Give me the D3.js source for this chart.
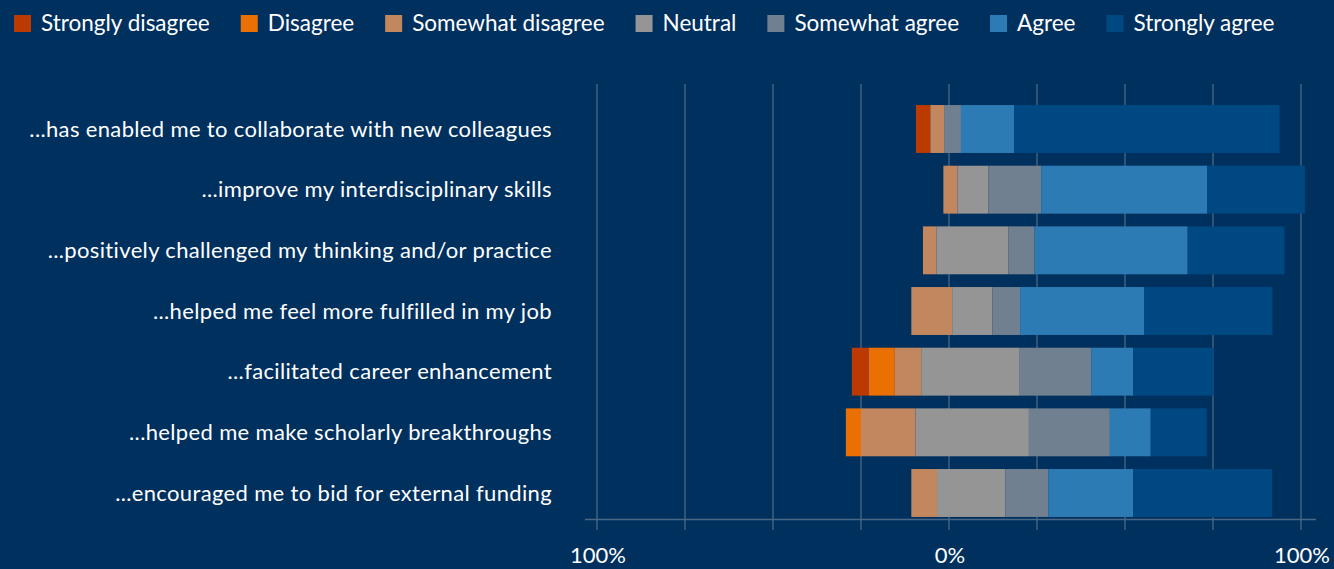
<!DOCTYPE html>
<html>
<head>
<meta charset="utf-8">
<script src="https://cdn.jsdelivr.net/npm/d3@7"></script>
<style>
    body { margin: 0; background: #00305e; }
    svg text { font-family: Lato, "Open Sans", sans-serif; fill: #ffffff; }
</style>
</head>
<body>
<div id="chart"></div>
<script>

// statements, top to bottom
let categories = [
    "...has enabled me to collaborate with new colleagues",
    "...improve my interdisciplinary skills",
    "...positively challenged my thinking and/or practice",
    "...helped me feel more fulfilled in my job",
    "...facilitated career enhancement",
    "...helped me make scholarly breakthroughs",
    "...encouraged me to bid for external funding"
];

let levels = ["Strongly disagree", "Disagree", "Somewhat disagree", "Neutral",
    "Somewhat agree", "Agree", "Strongly agree"];

let levelColors = ["#ba3a02", "#eb7004", "#c2875e", "#959595", "#708090", "#2c7bb4", "#004882"];

// where each bar begins on the axis (%), like an invisible leading series
let barStart = [-9.4, -1.6, -7.4, -10.7, -27.6, -29.3, -10.7];

// segment lengths, in axis %
let stronglyDisagree = [4.1, 0, 0, 0, 4.8, 0, 0];
let disagree         = [0, 0, 0, 0, 7.4, 4.3, 0];
let somewhatDisagree = [3.9, 4.0, 3.8, 11.6, 7.5, 15.5, 7.3];
let neutral          = [0, 8.8, 20.5, 11.4, 28.0, 32.2, 19.4];
let somewhatAgree    = [4.8, 15.0, 7.4, 7.9, 20.3, 23.0, 12.2];
let agree            = [15.1, 47.2, 43.5, 35.3, 11.9, 11.6, 24.1];
let stronglyAgree    = [75.4, 27.7, 27.5, 36.4, 22.9, 15.9, 39.5];

let gridValues = [-100, -75, -50, -25, 0, 25, 50, 75, 100];
let tickLabels = [{v: -100, t: "100%"}, {v: 0, t: "0%"}, {v: 100, t: "100%"}];

let series = [stronglyDisagree, disagree, somewhatDisagree, neutral, somewhatAgree, agree, stronglyAgree];

let rows = categories.map((c, i) => {
    let r = {category: c};
    levels.forEach((l, j) => r[l] = series[j][i]);
    return r;
});

let width = 1334, height = 569;

let svg = d3.select("#chart").append("svg")
    .attr("width", width)
    .attr("height", height);

svg.append("rect")
    .attr("width", width)
    .attr("height", height)
    .attr("fill", "#00305e");

// Scales
let x = d3.scaleLinear()
    .domain([-100, 100])
    .range([597, 1301]);

let y = d3.scaleBand()
    .domain(categories)
    .range([92.3, 529.7])
    .padding(0.21);

let axisY = 519.5;

// grid lines (run a bit past the axis as ticks)
svg.append("g")
    .attr("class", "grid")
    .selectAll("line")
    .data(gridValues)
    .enter()
    .append("line")
    .attr("x1", d => x(d))
    .attr("x2", d => x(d))
    .attr("y1", 84)
    .attr("y2", 530)
    .attr("stroke", "#4a6786")
    .attr("stroke-width", 1.3);

// axis line
svg.append("line")
    .attr("x1", 585)
    .attr("x2", 1316)
    .attr("y1", axisY)
    .attr("y2", axisY)
    .attr("stroke", "#4a6786")
    .attr("stroke-width", 1.5);

// stacked bars
let stacked = d3.stack().keys(levels)(rows);

let layers = svg.append("g")
    .selectAll("g")
    .data(stacked)
    .enter()
    .append("g")
    .attr("fill", (d, i) => levelColors[i]);

layers.selectAll("rect")
    .data(d => d)
    .enter()
    .append("rect")
    .filter(d => d[1] - d[0] > 0)
    .attr("x", d => x(barStart[categories.indexOf(d.data.category)] + d[0]))
    .attr("width", d => x(d[1]) - x(d[0]))
    .attr("y", d => y(d.data.category))
    .attr("height", y.bandwidth());

// category labels
svg.append("g")
    .selectAll("text")
    .data(categories)
    .enter()
    .append("text")
    .attr("x", 552)
    .attr("y", d => y(d) + y.bandwidth() / 2)
    .attr("dy", "0.35em")
    .attr("text-anchor", "end")
    .style("font-size", "22px")
    .style("letter-spacing", "0.35px")
    .text(d => d);

// x labels
svg.append("g")
    .selectAll("text")
    .data(tickLabels)
    .enter()
    .append("text")
    .attr("x", d => x(d.v) + 1)
    .attr("y", 563)
    .attr("text-anchor", "middle")
    .style("font-size", "22px")
    .text(d => d.t);

// legend, laid out left to right
let legend = svg.append("g").attr("class", "legend");
let lx = 14;
levels.forEach((l, i) => {
    let item = legend.append("g").attr("transform", "translate(" + lx + ",0)");
    item.append("rect")
        .attr("x", 0)
        .attr("y", 15)
        .attr("width", 17)
        .attr("height", 17)
        .attr("fill", levelColors[i]);
    let t = item.append("text")
        .attr("x", 27)
        .attr("y", 31)
        .style("font-size", "22.5px")
        .text(l);
    lx += 27 + t.node().getComputedTextLength() + 31;
});

</script>
</body>
</html>
